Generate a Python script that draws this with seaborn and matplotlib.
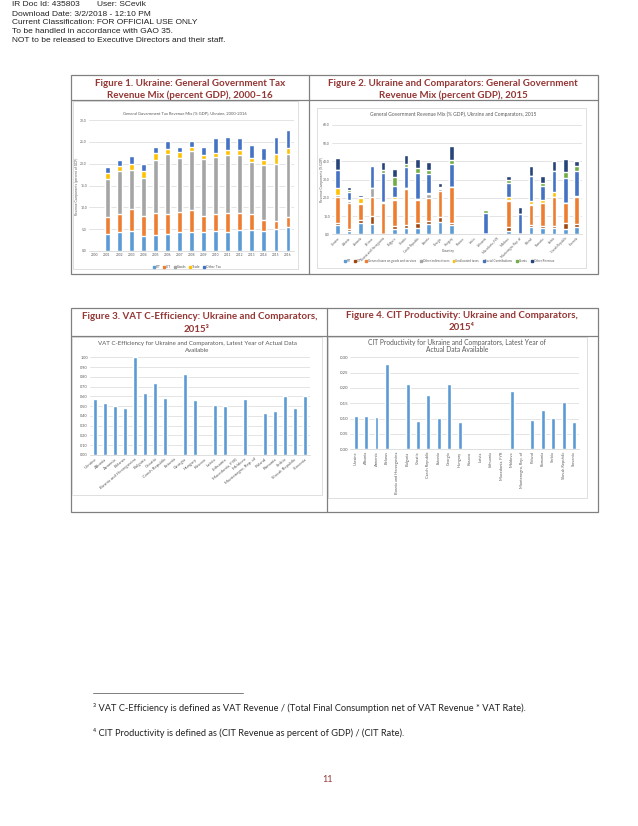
import numpy as np
import pandas as pd
import matplotlib
matplotlib.use("Agg")
import matplotlib.pyplot as plt
from matplotlib.patches import Patch, Rectangle
import seaborn as sns

# ---- data -------------------------------------------------------------
years = [str(y) for y in range(2000, 2017)]
tax_pit = [0, 4.0, 4.4, 4.6, 3.5, 3.7, 4.0, 4.4, 4.4, 4.4, 4.6, 4.4, 4.7, 4.8, 4.6, 5.0, 5.6]
tax_cit = [0, 3.8, 4.0, 5.0, 4.6, 5.1, 4.4, 4.6, 5.0, 3.7, 3.9, 4.4, 4.1, 3.7, 2.6, 1.9, 2.3]
tax_goods = [0, 8.8, 9.9, 8.9, 8.6, 12.1, 13.9, 12.2, 13.4, 12.9, 13.1, 13.2, 13.2, 11.8, 12.4, 13.0, 14.4]
tax_trade = [0, 1.2, 1.1, 1.5, 1.7, 1.5, 1.1, 1.4, 1.0, 1.0, 0.9, 1.2, 1.2, 1.1, 1.2, 2.4, 1.2]
tax_other = [0, 1.4, 1.5, 1.8, 1.6, 1.5, 1.7, 1.3, 1.5, 1.8, 3.3, 2.8, 2.6, 2.8, 2.9, 3.8, 4.2]
tax_labels = ["PIT", "CIT", "Goods", "Trade", "Other Tax"]

countries = ["Ukraine", "Albania", "Armenia", "Belarus", "Bosnia and Herzegovina",
             "Bulgaria", "Croatia", "Czech Republic", "Estonia", "Georgia", "Hungary",
             "Kosovo", "Latvia", "Lithuania", "Macedonia, FYR", "Moldova",
             "Montenegro, Rep. of", "Poland", "Romania", "Serbia", "Slovak Republic",
             "Slovenia"]
rev_pit = [4.9, 2.0, 6.0, 5.5, 0.0, 2.7, 3.3, 3.3, 5.7, 6.6, 5.1, 0, 0, 0, 0, 1.6, 0, 3.8, 3.3, 3.3, 2.9, 4.2]
rev_cit = [1.5, 0.9, 1.9, 4.7, 0.0, 1.9, 1.8, 2.7, 1.6, 3.1, 1.3, 0, 0, 0, 0, 2.2, 0, 1.5, 1.5, 1.1, 3.1, 1.5]
rev_goods = [13.9, 14.5, 8.7, 10.5, 17.4, 14.2, 19.8, 12.8, 12.5, 14.1, 19.4, 0, 0, 0, 0, 14.7, 0, 11.0, 12.2, 16.3, 11.0, 14.6]
rev_oind = [1.3, 0.9, 0.8, 4.5, 0.5, 0.4, 0.3, 0.4, 2.2, 0.9, 0.0, 0, 0, 0, 0, 0.5, 0, 0.4, 0.0, 0.0, 0.0, 0.0]
rev_unal = [4.0, 0.5, 2.4, 0.0, 0.0, 1.1, 0.0, 0.0, 0.9, 0.5, 0.0, 0, 0, 0, 0, 1.7, 0, 1.8, 1.8, 2.7, 0.0, 0.6]
rev_social = [9.7, 4.6, 0.0, 12.3, 15.9, 6.2, 11.9, 14.3, 10.2, 0.0, 12.8, 0, 0, 11.5, 0, 7.3, 11.2, 13.4, 7.9, 11.5, 13.9, 14.0]
rev_grants = [0.0, 0.9, 0.9, 0.0, 1.5, 4.8, 1.5, 2.8, 2.2, 1.0, 2.2, 0, 0, 1.9, 0, 1.9, 0, 0.0, 1.5, 0.0, 3.5, 2.8]
rev_other = [6.4, 1.9, 0.9, 0.5, 4.6, 4.4, 4.9, 4.9, 4.6, 1.8, 7.7, 0, 0, 0, 0, 2.3, 4.0, 5.5, 4.0, 5.5, 6.9, 2.4]
rev_labels = ["PIT", "CIT", "General taxes on goods and services", "Other indirect taxes",
              "Unallocated taxes", "Social Contributions", "Grants", "Other Revenue"]

nan = np.nan
vat_eff = [0.57, 0.53, 0.50, 0.48, 1.00, 0.63, 0.74, 0.58, nan, 0.83, 0.56, nan,
           0.51, 0.50, nan, 0.57, nan, 0.43, 0.45, 0.60, 0.48, 0.60]
cit_prod = [0.108, 0.110, 0.104, 0.277, nan, 0.213, 0.091, 0.177, 0.101, 0.213, 0.088,
            nan, nan, nan, nan, 0.190, nan, 0.097, 0.128, 0.103, 0.155, 0.089]

# ---- style ------------------------------------------------------------
sns.set_theme(style="white")
plt.rcParams["font.family"] = ["Lato", "DejaVu Sans"]

W, H = 638, 826
RED = "#943634"
GRID = "#D9D9D9"
TXT = "#595959"
BLUE = "#5B9BD5"
tax_colors = ["#5B9BD5", "#ED7D31", "#A5A5A5", "#FFC000", "#4472C4"]
rev_colors = ["#5B9BD5", "#9E480E", "#ED7D31", "#A5A5A5", "#FFC000", "#4472C4", "#70AD47", "#264478"]


def box(x0, y0, x1, y1):
    return [x0 / W, 1 - y1 / H, (x1 - x0) / W, (y1 - y0) / H]


def fpos(x, y):
    return (x / W, 1 - y / H)


fig = plt.figure(figsize=(W / 100, H / 100), dpi=100)
fig.patch.set_facecolor("white")

bg = fig.add_axes([0, 0, 1, 1], zorder=0)
bg.set_xlim(0, W)
bg.set_ylim(H, 0)
bg.axis("off")

# page header
hdr = dict(fontsize=6.0, color="#222222", va="center", family=["Liberation Sans", "DejaVu Sans"])
bg.text(12, 5, "IR Doc Id: 435803", **hdr)
bg.text(97, 5, "User: SCevik", **hdr)
bg.text(12, 14, "Download Date: 3/2/2018 - 12:10 PM", **hdr)
bg.text(12, 22.7, "Current Classification: FOR OFFICIAL USE ONLY", **hdr)
bg.text(12, 31.5, "To be handled in accordance with GAO 35.", **hdr)
bg.text(12, 40.2, "NOT to be released to Executive Directors and their staff.", **hdr)

# table borders
for (x0, y0, x1, y1, xd, yh) in [(71, 75, 598, 274, 309, 100), (71, 308, 598, 512, 327, 336)]:
    bg.add_patch(Rectangle((x0, y0), x1 - x0, y1 - y0, fill=False, ec="#808080", lw=0.9))
    bg.plot([xd, xd], [y0, y1], color="#808080", lw=0.9)
    bg.plot([x0, x1], [yh, yh], color="#808080", lw=0.9)

# inner chart frames
for (x0, y0, x1, y1) in [(73, 101, 298, 269), (317, 108, 586, 268),
                         (72, 337, 322, 495), (328, 337, 587, 498)]:
    bg.add_patch(Rectangle((x0, y0), x1 - x0, y1 - y0, fill=False, ec=GRID, lw=0.6))

# figure headings
head = dict(fontsize=7.0, color=RED, fontweight="bold", ha="center", va="center")
bg.text(190, 83.3, "Figure 1. Ukraine: General Government Tax", **head)
bg.text(190, 95, "Revenue Mix (percent GDP), 2000\u201316", **head)
bg.text(453, 83.3, "Figure 2. Ukraine and Comparators: General Government", **head)
bg.text(453, 95, "Revenue Mix (percent GDP), 2015", **head)
bg.text(200, 316.7, "Figure 3. VAT C-Efficiency: Ukraine and Comparators,", **head)
bg.text(197, 329, "2015\u00b3", **head)
bg.text(462, 315, "Figure 4. CIT Productivity: Ukraine and Comparators,", **head)
bg.text(462, 328, "2015\u2074", **head)


def style_axes(ax, ymax, step, fmt, size):
    ax.set_ylim(0, ymax)
    ticks = np.arange(0, ymax + step / 2, step)
    ax.set_yticks(ticks)
    ax.set_yticklabels([fmt.format(t) for t in ticks])
    ax.yaxis.grid(True, color=GRID, lw=0.5)
    ax.set_axisbelow(True)
    for s in ["top", "right", "left"]:
        ax.spines[s].set_visible(False)
    ax.spines["bottom"].set_color(GRID)
    ax.spines["bottom"].set_linewidth(0.6)
    ax.tick_params(length=0, labelsize=size, colors=TXT, pad=1.5)
    ax.set_xlabel("")
    ax.set_ylabel("")
    ax.patch.set_alpha(0)


def stacked(ax, cats, series, colors):
    cum = np.cumsum(np.array(series, dtype=float), axis=0)
    for i in range(len(series) - 1, -1, -1):
        sns.barplot(x=cats, y=cum[i], order=cats, color=colors[i], width=0.4,
                    saturation=1, errorbar=None, ax=ax)


# ---- Figure 1 ---------------------------------------------------------
ax1 = fig.add_axes(box(89, 120, 294, 251), zorder=1)
stacked(ax1, years, [tax_pit, tax_cit, tax_goods, tax_trade, tax_other], tax_colors)
style_axes(ax1, 30, 5, "{:.1f}", 2.4)
ax1.tick_params(axis="x", labelsize=2.3)
bg.text(185, 113, "General Government Tax Revenue Mix (% GDP), Ukraine, 2000-2016",
        fontsize=2.95, color=TXT, ha="center", va="center")
bg.text(77, 186, "Revenue Components (percent of GDP)", fontsize=2.3, color=TXT,
        ha="center", va="center", rotation=90)
fig.legend(handles=[Patch(color=c, label=l) for c, l in zip(tax_colors, tax_labels)],
           loc="center", bbox_to_anchor=fpos(187, 267), ncol=5, frameon=False,
           fontsize=2.4, handlelength=0.6, handleheight=0.6, handletextpad=0.3,
           columnspacing=0.8, labelcolor=TXT)

# ---- Figure 2 ---------------------------------------------------------
ax2 = fig.add_axes(box(332, 125, 582.4, 234.3), zorder=1)
stacked(ax2, countries, [rev_pit, rev_cit, rev_goods, rev_oind, rev_unal,
                         rev_social, rev_grants, rev_other], rev_colors)
style_axes(ax2, 60, 10, "{:.1f}", 2.4)
ax2.set_xticks(range(len(countries)))
ax2.set_xticklabels(countries, rotation=45, ha="right", rotation_mode="anchor",
                    fontsize=2.2)
bg.text(453, 114, "General Government Revenue Mix (% GDP), Ukraine and Comparators, 2015",
        fontsize=3.5, color=TXT, ha="center", va="center")
bg.text(448, 251, "Country", fontsize=2.6, color=TXT, ha="center", va="center")
bg.text(322, 180, "Revenue Components (% GDP)", fontsize=2.3, color=TXT,
        ha="center", va="center", rotation=90)
fig.legend(handles=[Patch(color=c, label=l) for c, l in zip(rev_colors, rev_labels)],
           loc="center", bbox_to_anchor=fpos(449, 261), ncol=8, frameon=False,
           fontsize=2.2, handlelength=0.6, handleheight=0.6, handletextpad=0.3,
           columnspacing=1.2, labelcolor=TXT)

# ---- Figure 3 ---------------------------------------------------------
ax3 = fig.add_axes(box(90, 357.3, 310, 455), zorder=1)
sns.barplot(x=countries, y=vat_eff, order=countries, color=BLUE, width=0.4,
            saturation=1, errorbar=None, ax=ax3)
style_axes(ax3, 1.0, 0.1, "{:.2f}", 2.8)
ax3.set_xticks(range(len(countries)))
ax3.set_xticklabels(countries, rotation=40, ha="right", rotation_mode="anchor",
                    fontsize=3.2)
bg.text(197, 344, "VAT C-Efficiency for Ukraine and Comparators, Latest Year of Actual Data",
        fontsize=4.4, color=TXT, ha="center", va="center")
bg.text(197, 350.5, "Available", fontsize=4.4, color=TXT, ha="center", va="center")

# ---- Figure 4 ---------------------------------------------------------
ax4 = fig.add_axes(box(350.5, 357.3, 579.2, 449.3), zorder=1)
sns.barplot(x=countries, y=cit_prod, order=countries, color=BLUE, width=0.38,
            saturation=1, errorbar=None, ax=ax4)
style_axes(ax4, 0.30, 0.05, "{:.2f}", 3.2)
ax4.set_xticks(range(len(countries)))
ax4.set_xticklabels(countries, rotation=90, fontsize=2.9)
bg.text(457, 342.7, "CIT Productivity for Ukraine and Comparators, Latest Year of",
        fontsize=4.8, color=TXT, ha="center", va="center")
bg.text(457, 349.3, "Actual Data Available", fontsize=4.8, color=TXT,
        ha="center", va="center")

# ---- footnotes --------------------------------------------------------
bg.plot([93, 243], [693, 693], color="#7F7F7F", lw=0.7)
foot = dict(fontsize=6.7, color="#222222", va="center")
bg.text(93, 708, "\u00b3 VAT C-Efficiency is defined as VAT Revenue / (Total Final Consumption "
        "net of VAT Revenue * VAT Rate).", **foot)
bg.text(93, 733, "\u2074 CIT Productivity is defined as (CIT Revenue as percent of GDP) / (CIT Rate).",
        **foot)
bg.text(328, 780, "11", fontsize=6.5, color=RED, ha="center", va="center")

fig.savefig("out.png", dpi=100, facecolor="white")
